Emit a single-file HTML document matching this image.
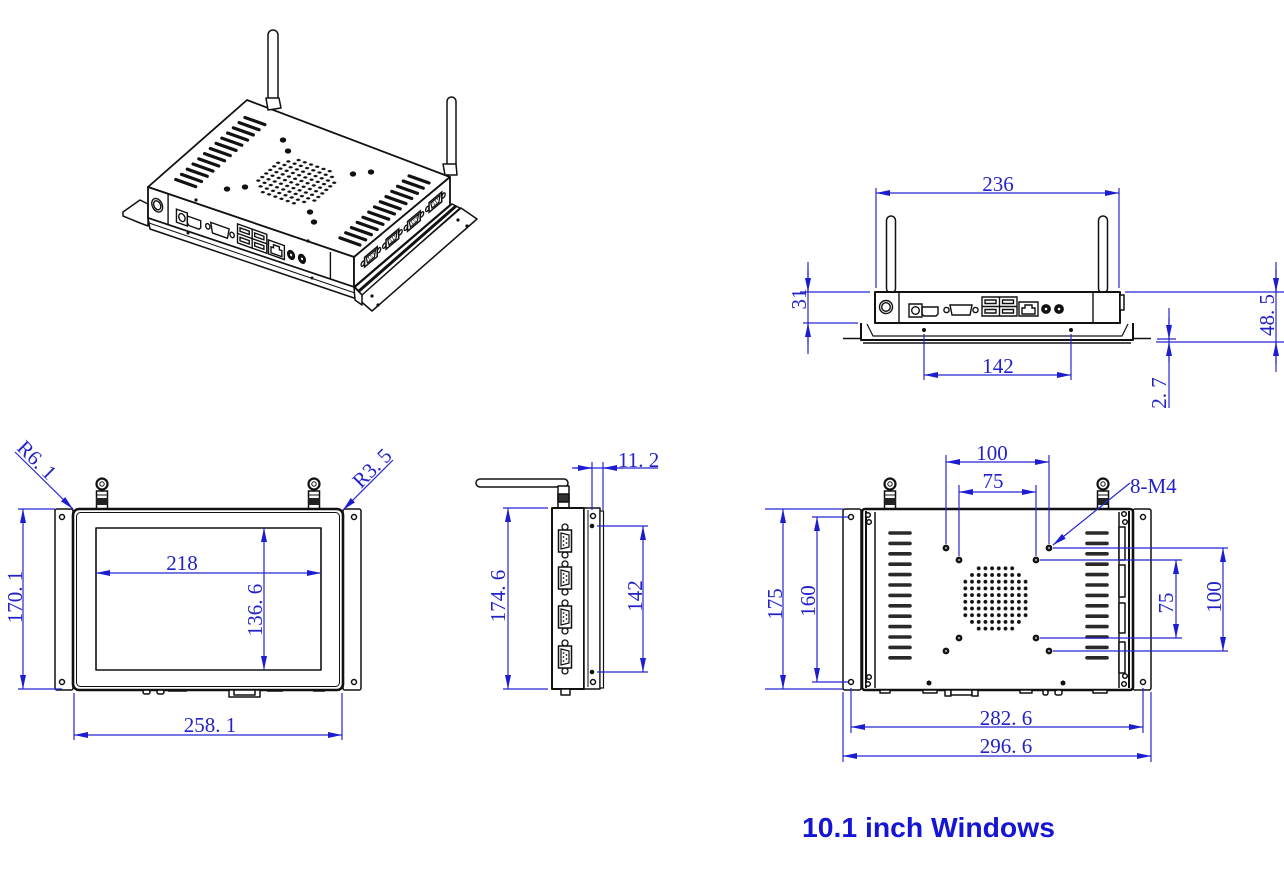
<!DOCTYPE html>
<html><head><meta charset="utf-8"><style>
html,body{margin:0;padding:0;background:#fff;width:1284px;height:895px;overflow:hidden}
svg{display:block}
.d{stroke:#2626d2;stroke-width:1.2;fill:none}
.t{font-family:"Liberation Serif",serif;font-size:21px;fill:#2222c8}
.k{stroke:#111;fill:#fff;stroke-width:1.5;stroke-linejoin:round}
.n{vector-effect:non-scaling-stroke}
</style></head><body>
<svg width="1284" height="895" viewBox="0 0 1284 895" xmlns="http://www.w3.org/2000/svg">
<defs>
<marker id="ar" viewBox="0 0 14 6" markerWidth="14" markerHeight="6" refX="14" refY="3" orient="auto-start-reverse" markerUnits="userSpaceOnUse"><path d="M0,0 L14,3 L0,6 Z" fill="#1c1cd0"/></marker>
<pattern id="dots" patternUnits="userSpaceOnUse" x="961.95" y="564.95" width="6.7" height="6.7"><circle cx="3.35" cy="3.35" r="1.9" fill="#111"/></pattern>
<g id="fan">
<rect x="975.35" y="564.95" width="40.2" height="6.7" fill="url(#dots)"/>
<rect x="968.65" y="571.65" width="53.6" height="6.7" fill="url(#dots)"/>
<rect x="961.95" y="578.35" width="67" height="40.2" fill="url(#dots)"/>
<rect x="968.65" y="618.55" width="53.6" height="6.7" fill="url(#dots)"/>
<rect x="975.35" y="625.25" width="40.2" height="6.7" fill="url(#dots)"/>
</g>
<g id="ports" fill="none" stroke="#111" stroke-width="1.4">
<line class="n" x1="24" y1="0" x2="24" y2="31"/>
<line class="n" x1="218" y1="0" x2="218" y2="31"/>
<circle class="n" cx="11" cy="15" r="6.5"/>
<circle class="n" cx="11" cy="15" r="4.3"/>
<rect class="n" x="34" y="12" width="13" height="13"/>
<circle class="n" cx="40.5" cy="18.5" r="3.8"/>
<path class="n" d="M47,15 H63 V22 L61,24 H49 L47,22 Z"/>
<path class="n" d="M75,13 H97 L95,23 H77 Z"/>
<circle class="n" cx="71.5" cy="18" r="2.6"/>
<circle class="n" cx="100.5" cy="18" r="2.6"/>
<rect class="n" x="107" y="5" width="35" height="19"/>
<line class="n" x1="124.5" y1="5" x2="124.5" y2="24"/>
<line class="n" x1="107" y1="14.5" x2="142" y2="14.5"/>
<rect class="n" x="110" y="8" width="11" height="3.5"/>
<rect class="n" x="127.5" y="8" width="11" height="3.5"/>
<rect class="n" x="110" y="17.5" width="11" height="3.5"/>
<rect class="n" x="127.5" y="17.5" width="11" height="3.5"/>
<rect class="n" x="144" y="10" width="19" height="14"/>
<path class="n" d="M147,22 V16 H150 V13 H157 V16 H160 V22 Z"/>
<circle cx="171" cy="17" r="4.2" fill="#111"/>
<circle cx="184" cy="17" r="4.2" fill="#111"/>
<circle cx="171" cy="17" r="1.3" fill="#fff" stroke="none"/>
<circle cx="184" cy="17" r="1.3" fill="#fff" stroke="none"/>
</g>
<g id="nub">
<rect x="-5.5" y="-18" width="11" height="18" fill="#fff" stroke="#111" stroke-width="1.5"/>
<rect x="-5.5" y="-11" width="11" height="7" fill="#222"/>
<line x1="-5.5" y1="-14" x2="5.5" y2="-14" stroke="#111" stroke-width="1"/>
<circle cx="0" cy="-25" r="5.5" fill="#fff" stroke="#111" stroke-width="2.2"/>
<circle cx="0" cy="-25" r="2.2" fill="#fff" stroke="#111" stroke-width="1"/>
</g>
<g id="db9">
<circle class="n" cx="0" cy="-14" r="3" fill="#fff" stroke="#111" stroke-width="1.3"/>
<circle class="n" cx="0" cy="14" r="3" fill="#fff" stroke="#111" stroke-width="1.3"/>
<rect class="n" x="-6.5" y="-11" width="13" height="22" fill="#fff" stroke="#111" stroke-width="1.5"/>
<path class="n" d="M-4,-8 L4,-6 L4,6 L-4,8 Z" fill="none" stroke="#111" stroke-width="1.2"/>
<circle cx="-1.5" cy="-4" r="0.9" fill="#111"/><circle cx="-1.5" cy="0" r="0.9" fill="#111"/><circle cx="-1.5" cy="4" r="0.9" fill="#111"/>
<circle cx="1.5" cy="-2" r="0.9" fill="#111"/><circle cx="1.5" cy="2" r="0.9" fill="#111"/>
</g>
</defs>

<!-- ================= ISOMETRIC VIEW ================= -->
<g class="k">
<!-- right antenna (behind) -->
<rect x="447" y="97" width="9" height="72" rx="4.5"/>
<!-- left flange -->
<path d="M123,212 L140,200 L148,204 L148,226 L140,223 L123,216 Z"/>
<!-- top face -->
<path d="M247,100 L450,177 L354,257 L148,187 Z" stroke-width="1.8"/>
<!-- front face -->
<path d="M148,187 L354,257 L354,287 L148,218 Z" stroke-width="1.8"/>
<!-- side face -->
<path d="M354,257 L450,177 L450,205 L354,287 Z" stroke-width="1.8"/>
</g>
<use href="#ports" transform="matrix(0.8367,0.298,0,1,148,187)"/>
<g transform="matrix(0.768,-0.64,0,1,354,257)">
<use href="#db9" transform="translate(22,14) rotate(90) scale(0.75)"/>
<use href="#db9" transform="translate(50,14) rotate(90) scale(0.75)"/>
<use href="#db9" transform="translate(78,14) rotate(90) scale(0.75)"/>
<use href="#db9" transform="translate(106,13) rotate(90) scale(0.75)"/>
</g>
<!-- top face slots -->
<g transform="matrix(0.8686,0.309,0.554,-0.497,148,187)" stroke="#111" stroke-width="3.2" stroke-linecap="round">
<g id="slotsL">
<line class="n" x1="16" y1="25" x2="39" y2="25"/><line class="n" x1="16" y1="35.4" x2="39" y2="35.4"/>
<line class="n" x1="16" y1="45.8" x2="39" y2="45.8"/><line class="n" x1="16" y1="56.2" x2="39" y2="56.2"/>
<line class="n" x1="16" y1="66.6" x2="39" y2="66.6"/><line class="n" x1="16" y1="77" x2="39" y2="77"/>
<line class="n" x1="16" y1="87.4" x2="39" y2="87.4"/><line class="n" x1="16" y1="97.8" x2="39" y2="97.8"/>
<line class="n" x1="16" y1="108.2" x2="39" y2="108.2"/><line class="n" x1="16" y1="118.6" x2="39" y2="118.6"/>
<line class="n" x1="16" y1="129" x2="39" y2="129"/><line class="n" x1="16" y1="139.4" x2="39" y2="139.4"/>
<line class="n" x1="16" y1="149.8" x2="39" y2="149.8"/>
</g>
<use href="#slotsL" transform="translate(189,0)"/>
</g>
<use href="#fan" transform="matrix(0.8686,0.309,0.554,-0.497,148,187) translate(119,84) scale(1.07) translate(-997,-598.8)"/>
<g fill="#111">
<ellipse cx="283" cy="140" rx="3.2" ry="2.6"/><ellipse cx="288" cy="151" rx="3.2" ry="2.6"/>
<ellipse cx="227" cy="189" rx="3.2" ry="2.6"/><ellipse cx="245" cy="187" rx="3.2" ry="2.6"/>
<ellipse cx="353" cy="174" rx="3.2" ry="2.6"/><ellipse cx="371" cy="172" rx="3.2" ry="2.6"/>
<ellipse cx="310" cy="212" rx="3.2" ry="2.6"/><ellipse cx="314" cy="222" rx="3.2" ry="2.6"/>
<circle cx="196" cy="200" r="1.6"/><circle cx="308" cy="241" r="1.6"/>
</g>
<g class="k">
<!-- front base strip -->
<path d="M148,218 L354,287 L357,299 L150,229 Z"/>
<line x1="149" y1="223" x2="355" y2="293" stroke-width="1"/>
<!-- right bracket -->
<path d="M357,298 L461,208 L477,219 L372,311 Z"/>
<path d="M355,287 L452,204 L460,208 L362,295 Z"/>
<line x1="359" y1="291" x2="456" y2="206" stroke-width="3"/>
<path d="M354,287 L362,295 L362,305 L355,300 Z"/>
<!-- antennas -->
<rect x="268" y="30" width="10" height="72" rx="5"/>
<path d="M266,98 L279,98 L281,108 L268,110 Z"/>
<path d="M443,164 L456,164 L457,175 L445,175 Z"/>
</g>
<g fill="#111"><circle cx="188" cy="233" r="1.5"/><circle cx="312" cy="278" r="1.5"/>
<circle cx="372" cy="296" r="1.6"/><circle cx="378" cy="305" r="1.6"/><circle cx="458" cy="220" r="1.6"/><circle cx="467" cy="226" r="1.6"/></g>

<!-- ================= FRONT VIEW (top right) ================= -->
<g class="k">
<rect x="886.5" y="216" width="9" height="77" rx="4.5"/>
<rect x="1098.5" y="216" width="9" height="77" rx="4.5"/>
<rect x="875" y="292" width="245" height="31" stroke-width="2"/>
<rect x="1120" y="295" width="4" height="15"/>
<path d="M861,323 V340 H1133 V323" stroke-width="2" fill="none"/>
<path d="M867,324 L873,336 H1122 L1128,324" stroke-width="1.2" fill="none"/>
<line x1="843" y1="338.5" x2="861" y2="338.5"/>
<line x1="1133" y1="338.5" x2="1151" y2="338.5"/>
<line x1="863" y1="343" x2="1131" y2="343"/>
</g>
<use href="#ports" transform="translate(875,292)"/>
<circle cx="924" cy="330" r="2" fill="#111"/><circle cx="1071" cy="330" r="2" fill="#111"/>

<g class="d">
<line x1="876" y1="188" x2="876" y2="288"/><line x1="1119" y1="188" x2="1119" y2="288"/>
<line x1="876" y1="193" x2="1119" y2="193" marker-start="url(#ar)" marker-end="url(#ar)"/>
<line x1="924" y1="334" x2="924" y2="380"/><line x1="1071" y1="334" x2="1071" y2="380"/>
<line x1="924" y1="375" x2="1071" y2="375" marker-start="url(#ar)" marker-end="url(#ar)"/>
<line x1="800" y1="292" x2="870" y2="292"/><line x1="803" y1="323" x2="858" y2="323"/>
<line x1="808" y1="262" x2="808" y2="354"/>
<line x1="808" y1="270" x2="808" y2="292" marker-end="url(#ar)"/>
<line x1="808" y1="345" x2="808" y2="323" marker-end="url(#ar)"/>
<line x1="1125" y1="292" x2="1284" y2="292"/><line x1="1156" y1="342" x2="1284" y2="342"/>
<line x1="1157" y1="339" x2="1176" y2="339"/>
<line x1="1276" y1="262" x2="1276" y2="372"/>
<line x1="1276" y1="270" x2="1276" y2="292" marker-end="url(#ar)"/>
<line x1="1276" y1="364" x2="1276" y2="342" marker-end="url(#ar)"/>
<line x1="1169" y1="308" x2="1169" y2="408"/>
<line x1="1169" y1="318" x2="1169" y2="339" marker-end="url(#ar)"/>
<line x1="1169" y1="362" x2="1169" y2="342" marker-end="url(#ar)"/>
</g>
<text class="t" x="998" y="191" text-anchor="middle">236</text>
<text class="t" x="998" y="373" text-anchor="middle">142</text>
<text class="t" text-anchor="middle" transform="translate(806,299) rotate(-90)">31</text>
<text class="t" text-anchor="middle" transform="translate(1274,315) rotate(-90)">48. 5</text>
<text class="t" text-anchor="middle" transform="translate(1166,393) rotate(-90)">2. 7</text>

<!-- ================= DISPLAY FRONT (bottom left) ================= -->
<use href="#nub" transform="translate(102,509)"/>
<use href="#nub" transform="translate(314,509)"/>
<g class="k">
<rect x="55" y="509" width="18" height="181" rx="2"/>
<rect x="343" y="509" width="18" height="181" rx="2"/>
<rect x="73" y="509" width="270" height="181" rx="6" stroke-width="2.6"/>
<rect x="76.5" y="512.5" width="263" height="174" rx="4" stroke-width="1"/>
<rect x="96" y="528" width="225" height="142" stroke-width="1.6"/>
<circle cx="62" cy="517" r="2.5"/><circle cx="62" cy="682" r="2.5"/>
<circle cx="354" cy="517" r="2.5"/><circle cx="354" cy="682" r="2.5"/>
<rect x="143" y="690" width="7" height="4" rx="2"/><rect x="157" y="690" width="7" height="4" rx="2"/>
<line x1="168" y1="691" x2="187" y2="691"/>
<rect x="229" y="690" width="31" height="7"/><rect x="234" y="690" width="21" height="5"/>
<line x1="267" y1="691" x2="283" y2="691"/>
<line x1="313" y1="691" x2="325" y2="691"/>
</g>
<g class="d">
<line x1="18" y1="509" x2="55" y2="509"/><line x1="18" y1="689" x2="62" y2="689"/>
<line x1="23" y1="509" x2="23" y2="689" marker-start="url(#ar)" marker-end="url(#ar)"/>
<line x1="74" y1="693" x2="74" y2="740"/><line x1="342" y1="693" x2="342" y2="740"/>
<line x1="74" y1="735" x2="342" y2="735" marker-start="url(#ar)" marker-end="url(#ar)"/>
<line x1="96" y1="573" x2="321" y2="573" marker-start="url(#ar)" marker-end="url(#ar)"/>
<line x1="264" y1="528" x2="264" y2="670" marker-start="url(#ar)" marker-end="url(#ar)"/>
<line x1="15" y1="452" x2="73" y2="509" marker-end="url(#ar)"/>
<line x1="393" y1="460" x2="343" y2="510" marker-end="url(#ar)"/>
</g>
<text class="t" text-anchor="middle" transform="translate(22,597) rotate(-90)">170. 1</text>
<text class="t" x="210" y="732" text-anchor="middle">258. 1</text>
<text class="t" x="182" y="570" text-anchor="middle">218</text>
<text class="t" text-anchor="middle" transform="translate(262,610) rotate(-90)">136. 6</text>
<text class="t" text-anchor="middle" transform="translate(32,465) rotate(45)">R6. 1</text>
<text class="t" text-anchor="middle" transform="translate(377,473) rotate(-45)">R3. 5</text>

<!-- ================= SIDE VIEW ================= -->
<g class="k">
<rect x="476" y="479" width="92" height="8" rx="4"/>
<rect x="558" y="486" width="11" height="23"/>
<rect x="558" y="494" width="11" height="8" fill="#333"/>
<rect x="552" y="508" width="32" height="181" stroke-width="2"/>
<rect x="584" y="508" width="16" height="181"/>
<line x1="588" y1="510" x2="588" y2="687" stroke-width="1"/>
<rect x="600" y="511" width="3.5" height="177" stroke-width="1.2"/>
<circle cx="593" cy="516" r="2.5"/><circle cx="593" cy="682" r="2.5"/>
<rect x="561" y="689" width="9" height="6"/>
</g>
<circle cx="592" cy="526" r="2.3" fill="#111"/><circle cx="592" cy="672" r="2.3" fill="#111"/>
<use href="#db9" transform="translate(565,541)"/>
<use href="#db9" transform="translate(565,578)"/>
<use href="#db9" transform="translate(565,617)"/>
<use href="#db9" transform="translate(565,657)"/>
<g class="d">
<line x1="503" y1="508" x2="548" y2="508"/><line x1="503" y1="689" x2="548" y2="689"/>
<line x1="508" y1="508" x2="508" y2="689" marker-start="url(#ar)" marker-end="url(#ar)"/>
<line x1="597" y1="526" x2="648" y2="526"/><line x1="597" y1="672" x2="648" y2="672"/>
<line x1="643" y1="526" x2="643" y2="672" marker-start="url(#ar)" marker-end="url(#ar)"/>
<line x1="592" y1="462" x2="592" y2="510"/><line x1="603" y1="462" x2="603" y2="510"/>
<line x1="575" y1="468" x2="658" y2="468"/>
<line x1="572" y1="468" x2="592" y2="468" marker-end="url(#ar)"/>
<line x1="623" y1="468" x2="603" y2="468" marker-end="url(#ar)"/>
</g>
<text class="t" x="618" y="467">11. 2</text>
<text class="t" text-anchor="middle" transform="translate(505,596) rotate(-90)">174. 6</text>
<text class="t" text-anchor="middle" transform="translate(642,596) rotate(-90)">142</text>

<!-- ================= BOTTOM VIEW ================= -->
<use href="#nub" transform="translate(890,509)"/>
<use href="#nub" transform="translate(1103,509)"/>
<g class="k">
<rect x="843" y="509" width="18" height="181" rx="2"/>
<rect x="1133" y="509" width="18" height="181" rx="2"/>
<rect x="862" y="509" width="271" height="181" rx="3" stroke-width="2.6"/>
<line x1="866" y1="511" x2="866" y2="688" stroke-width="2"/>
<line x1="875" y1="512" x2="875" y2="688"/>
<line x1="1119" y1="512" x2="1119" y2="688"/>
<line x1="1129" y1="511" x2="1129" y2="688" stroke-width="2"/>
<rect x="1119" y="527" width="6" height="33"/><rect x="1119" y="565" width="6" height="32"/>
<rect x="1119" y="603" width="6" height="30"/><rect x="1119" y="642" width="6" height="31"/>
<circle cx="851" cy="517" r="2.5"/><circle cx="851" cy="682" r="2.5"/>
<circle cx="1143" cy="517" r="2.5"/><circle cx="1143" cy="682" r="2.5"/>
<circle cx="868" cy="515" r="2.3"/><circle cx="869" cy="522" r="2.3"/>
<circle cx="868" cy="684" r="2.3"/><circle cx="869" cy="677" r="2.3"/>
<circle cx="1124" cy="514" r="2.3"/><circle cx="1125" cy="522" r="2.3"/>
<circle cx="1124" cy="684" r="2.3"/><circle cx="1125" cy="676" r="2.3"/>
<rect x="880" y="690" width="10" height="3"/>
<rect x="923" y="690" width="14" height="3"/>
<rect x="945" y="690" width="6" height="6"/><rect x="951" y="690" width="21" height="5"/><rect x="972" y="690" width="6" height="6"/>
<rect x="1020" y="690" width="12" height="3"/>
<rect x="1043" y="690" width="5" height="5" rx="2"/><rect x="1055" y="690" width="7" height="5" rx="2"/>
<rect x="1093" y="690" width="14" height="3"/>
</g>
<g stroke="#2a2a2a" stroke-width="3.6" stroke-linecap="round">
<g id="slotsB">
<line x1="890" y1="533" x2="910" y2="533"/><line x1="890" y1="543.4" x2="910" y2="543.4"/>
<line x1="890" y1="553.8" x2="910" y2="553.8"/><line x1="890" y1="564.2" x2="910" y2="564.2"/>
<line x1="890" y1="574.6" x2="910" y2="574.6"/><line x1="890" y1="585" x2="910" y2="585"/>
<line x1="890" y1="595.4" x2="910" y2="595.4"/><line x1="890" y1="605.8" x2="910" y2="605.8"/>
<line x1="890" y1="616.2" x2="910" y2="616.2"/><line x1="890" y1="626.6" x2="910" y2="626.6"/>
<line x1="890" y1="637" x2="910" y2="637"/><line x1="890" y1="647.4" x2="910" y2="647.4"/>
<line x1="890" y1="657.8" x2="910" y2="657.8"/>
</g>
<use href="#slotsB" transform="translate(197,0)"/>
</g>
<use href="#fan"/>
<g fill="#111">
<circle cx="946" cy="548" r="3.4"/><circle cx="1049" cy="548" r="3.4"/>
<circle cx="946" cy="651" r="3.4"/><circle cx="1049" cy="651" r="3.4"/>
<circle cx="959" cy="560" r="3.4"/><circle cx="1036" cy="560" r="3.4"/>
<circle cx="959" cy="638" r="3.4"/><circle cx="1036" cy="638" r="3.4"/>
<circle cx="929" cy="683" r="2.5"/><circle cx="1063" cy="683" r="2.5"/>
</g>
<g fill="#999">
<circle cx="946" cy="548" r="1.2"/><circle cx="1049" cy="548" r="1.2"/>
<circle cx="946" cy="651" r="1.2"/><circle cx="1049" cy="651" r="1.2"/>
<circle cx="959" cy="560" r="1.2"/><circle cx="1036" cy="560" r="1.2"/>
<circle cx="959" cy="638" r="1.2"/><circle cx="1036" cy="638" r="1.2"/>
</g>
<g class="d">
<line x1="946" y1="455" x2="946" y2="544"/><line x1="1049" y1="455" x2="1049" y2="544"/>
<line x1="946" y1="462" x2="1049" y2="462" marker-start="url(#ar)" marker-end="url(#ar)"/>
<line x1="959" y1="485" x2="959" y2="556"/><line x1="1036" y1="485" x2="1036" y2="556"/>
<line x1="959" y1="492" x2="1036" y2="492" marker-start="url(#ar)" marker-end="url(#ar)"/>
<line x1="1130" y1="483" x2="1053" y2="545" marker-end="url(#ar)"/>
<line x1="765" y1="509" x2="843" y2="509"/><line x1="765" y1="689" x2="843" y2="689"/>
<line x1="783" y1="509" x2="783" y2="689" marker-start="url(#ar)" marker-end="url(#ar)"/>
<line x1="812" y1="517" x2="848" y2="517"/><line x1="812" y1="682" x2="848" y2="682"/>
<line x1="817" y1="517" x2="817" y2="682" marker-start="url(#ar)" marker-end="url(#ar)"/>
<line x1="1040" y1="560" x2="1182" y2="560"/><line x1="1040" y1="638" x2="1182" y2="638"/>
<line x1="1176" y1="560" x2="1176" y2="638" marker-start="url(#ar)" marker-end="url(#ar)"/>
<line x1="1053" y1="548" x2="1228" y2="548"/><line x1="1053" y1="651" x2="1228" y2="651"/>
<line x1="1223" y1="548" x2="1223" y2="651" marker-start="url(#ar)" marker-end="url(#ar)"/>
<line x1="851" y1="688" x2="851" y2="733"/><line x1="1143" y1="688" x2="1143" y2="733"/>
<line x1="851" y1="727" x2="1143" y2="727" marker-start="url(#ar)" marker-end="url(#ar)"/>
<line x1="843" y1="692" x2="843" y2="762"/><line x1="1151" y1="692" x2="1151" y2="762"/>
<line x1="843" y1="756" x2="1151" y2="756" marker-start="url(#ar)" marker-end="url(#ar)"/>
</g>
<text class="t" x="992" y="460" text-anchor="middle">100</text>
<text class="t" x="993" y="488" text-anchor="middle">75</text>
<text class="t" x="1130" y="493">8-M4</text>
<text class="t" text-anchor="middle" transform="translate(782,604) rotate(-90)">175</text>
<text class="t" text-anchor="middle" transform="translate(815,601) rotate(-90)">160</text>
<text class="t" text-anchor="middle" transform="translate(1173,603) rotate(-90)">75</text>
<text class="t" text-anchor="middle" transform="translate(1221,597) rotate(-90)">100</text>
<text class="t" x="1006" y="725" text-anchor="middle">282. 6</text>
<text class="t" x="1006" y="753" text-anchor="middle">296. 6</text>

<text x="802" y="837" font-family="Liberation Sans, sans-serif" font-weight="bold" font-size="28" fill="#1515d5" textLength="253" lengthAdjust="spacingAndGlyphs">10.1 inch Windows</text>
</svg>
</body></html>
